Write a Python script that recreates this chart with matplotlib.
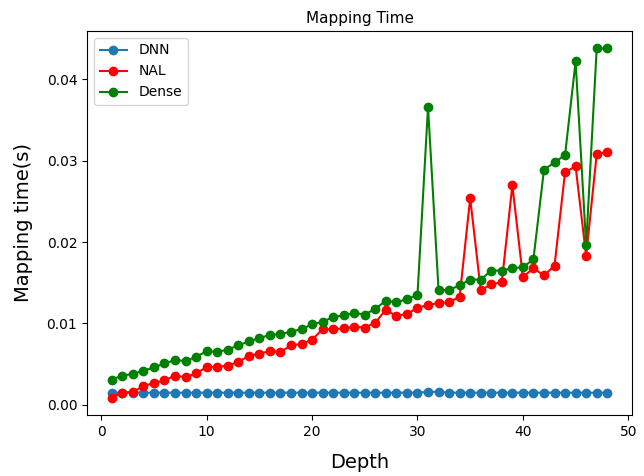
import matplotlib
matplotlib.use("Agg")
from matplotlib import pyplot as plt

depth = list(range(1, 49))

dnn = [0.0015] * 30 + [0.0016, 0.0016] + [0.0015] * 16

nal = [0.0009, 0.0015, 0.0016, 0.0023, 0.0027, 0.0030, 0.0036, 0.0034, 0.0039, 0.0046,
       0.0047, 0.0048, 0.0053, 0.0060, 0.0063, 0.0066, 0.0065, 0.0073, 0.0075, 0.0080,
       0.0093, 0.0093, 0.0094, 0.0096, 0.0095, 0.0101, 0.0117, 0.0109, 0.0112, 0.0119,
       0.0123, 0.0125, 0.0126, 0.0133, 0.0254, 0.0141, 0.0148, 0.0151, 0.0270, 0.0157,
       0.0168, 0.0159, 0.0171, 0.0286, 0.0293, 0.0183, 0.0308, 0.0311]

dense = [0.0031, 0.0036, 0.0038, 0.0042, 0.0046, 0.0051, 0.0055, 0.0054, 0.0059, 0.0066,
         0.0065, 0.0068, 0.0073, 0.0078, 0.0082, 0.0086, 0.0087, 0.0090, 0.0093, 0.0099,
         0.0102, 0.0108, 0.0110, 0.0113, 0.0111, 0.0118, 0.0128, 0.0126, 0.0130, 0.0135,
         0.0366, 0.0141, 0.0141, 0.0147, 0.0154, 0.0154, 0.0165, 0.0165, 0.0168, 0.0169,
         0.0179, 0.0289, 0.0298, 0.0307, 0.0422, 0.0196, 0.0438, 0.0438]


def main():
    fig = plt.figure(figsize=(6.44, 4.76), dpi=100)
    ax = fig.add_axes([87 / 644, 1 - 415 / 476, (632 - 87) / 644, (415 - 31) / 476])

    ax.plot(depth, dnn, marker='o', label='DNN')
    ax.plot(depth, nal, marker='o', color='red', label='NAL')
    ax.plot(depth, dense, marker='o', color='green', label='Dense')

    ax.set_title("Mapping Time", fontsize=11)
    ax.set_xlabel("Depth", fontsize=14, labelpad=10)
    ax.set_ylabel("Mapping time(s)", fontsize=14, labelpad=10)
    ax.legend(loc='upper left')

    fig.savefig("out.png", dpi=100)
    return 0


if __name__ == '__main__':
    main()
